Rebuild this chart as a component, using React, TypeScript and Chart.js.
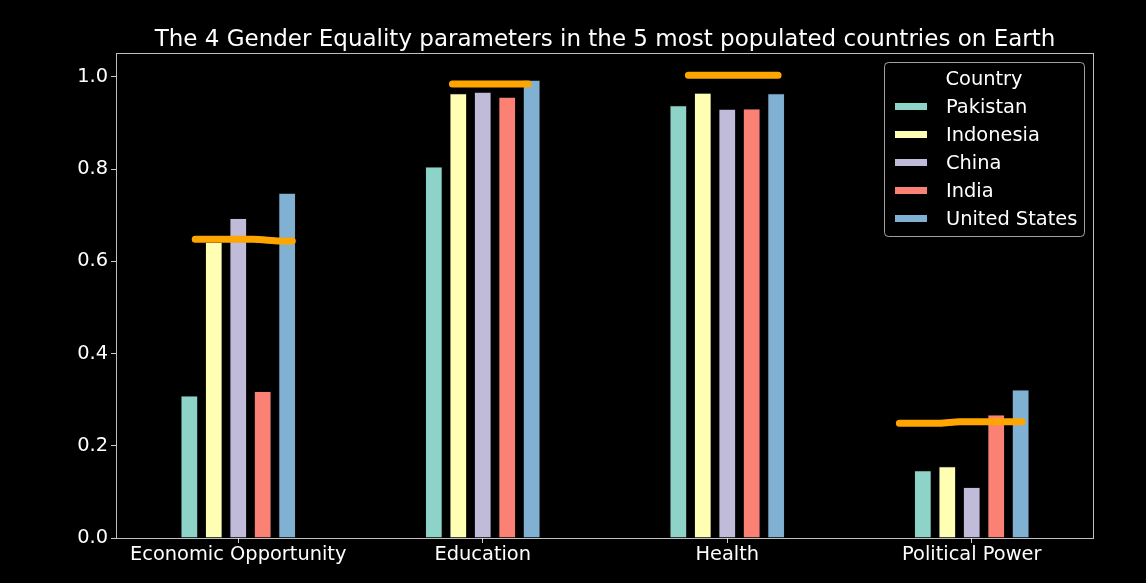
import React, { useEffect, useRef } from "react";
import { Chart, registerables } from "chart.js";
Chart.register(...registerables);

const chartTitle = "The 4 Gender Equality parameters in the 5 most populated countries on Earth";
const legendTitle = "Country";
const categories = ["Economic Opportunity", "Education", "Health", "Political Power"];
const countries = ["Pakistan", "Indonesia", "China", "India", "United States"];
const colors = ["#8dd3c7", "#feffb3", "#bfbbd9", "#fa8174", "#81b1d2"];
const pakistan = [0.308, 0.805, 0.938, 0.146];
const indonesia = [0.641, 0.964, 0.965, 0.155];
const china = [0.693, 0.967, 0.93, 0.11];
const india = [0.318, 0.956, 0.931, 0.267];
const unitedStates = [0.748, 0.993, 0.964, 0.321];
const seriesValues = [pakistan, indonesia, china, india, unitedStates];

// orange reference line per category: offsets within the category and values
const lineOffsets = [
  [-0.176, -0.05, 0.06, 0.17, 0.221],
  [-0.124, 0.186],
  [-0.159, 0.208],
  [-0.296, -0.13, -0.05, 0.206],
];
const lineValues = [
  [0.648, 0.648, 0.648, 0.644, 0.644],
  [0.985, 0.985],
  [1.004, 1.004],
  [0.249, 0.249, 0.252, 0.252],
];
const yTicks = [0, 0.2, 0.4, 0.6, 0.8, 1.0];
const yMax = 1.052;

const FONT = "'DejaVu Sans', sans-serif";

export default function App() {
  const ref = useRef<HTMLCanvasElement | null>(null);
  useEffect(() => {
    document.body.style.margin = "0";
    document.body.style.background = "#000";
    const linePts: any[] = [];
    lineOffsets.forEach((offs, ci) => {
      offs.forEach((o, k) => linePts.push({ x: ci + o, y: lineValues[ci][k] }));
      linePts.push({ x: ci + 0.45, y: null });
    });
    const datasets: any[] = seriesValues.map((vals, i) => ({
      type: "bar",
      label: countries[i],
      data: vals.map((v, ci) => ({ x: ci, y: v })),
      backgroundColor: colors[i],
      borderColor: "rgba(40,40,40,0.8)",
      borderWidth: 0.6,
      barPercentage: 0.69,
      categoryPercentage: 0.5,
      order: 2,
    }));
    datasets.push({
      type: "line",
      label: "__ref",
      data: linePts,
      borderColor: "#ffa500",
      borderWidth: 7,
      borderCapStyle: "round",
      borderJoinStyle: "round",
      pointRadius: 0,
      spanGaps: false,
      tension: 0.3,
      order: 1,
    });

    const decor = {
      id: "decor",
      beforeDraw(chart: any) {
        const c = chart.ctx;
        c.save();
        c.fillStyle = "#000";
        c.fillRect(0, 0, chart.width, chart.height);
        c.restore();
      },
      afterDraw(chart: any) {
        const c = chart.ctx;
        const a = chart.chartArea;
        c.save();
        c.strokeStyle = "rgba(255,255,255,0.75)";
        c.lineWidth = 1;
        c.strokeRect(a.left + 0.5, a.top + 0.5, a.right - a.left - 1, a.bottom - a.top);
        c.fillStyle = "#fff";
        c.font = `23px ${FONT}`;
        c.textAlign = "center";
        c.textBaseline = "middle";
        c.fillText(chartTitle, (a.left + a.right) / 2, 40);
        const bx = 884, by = 62, bw = 200, bh = 174;
        c.fillStyle = "#000";
        c.strokeStyle = "rgba(200,200,200,0.8)";
        c.beginPath();
        (c as any).roundRect(bx + 0.5, by + 0.5, bw, bh, 4);
        c.fill();
        c.stroke();
        c.fillStyle = "#fff";
        c.font = `19.4px ${FONT}`;
        c.textAlign = "center";
        c.fillText(legendTitle, bx + bw / 2, 80);
        c.textAlign = "left";
        countries.forEach((name, i) => {
          const y = 107.5 + i * 28;
          c.fillStyle = colors[i];
          c.fillRect(895, y - 4.5, 32, 7);
          c.fillStyle = "#fff";
          c.fillText(name, 946, y);
        });
        c.restore();
      },
    };

    const chart = new Chart(ref.current as HTMLCanvasElement, {
      data: { datasets },
      options: {
        responsive: false,
        animation: false,
        devicePixelRatio: 1,
        layout: { padding: { top: 53, right: 52, left: 0, bottom: 0 } },
        plugins: { legend: { display: false }, title: { display: false }, tooltip: { enabled: false } },
        scales: {
          x: {
            type: "linear",
            min: -0.5,
            max: 3.5,
            offset: false,
            grid: { display: true, drawOnChartArea: false, offset: false, tickLength: 5, color: "rgba(255,255,255,0.8)" },
            border: { display: false },
            ticks: {
              color: "#fff",
              font: { family: FONT, size: 19.4 },
              padding: 0,
              maxRotation: 0,
              autoSkip: false,
              callback: (v: any) => categories[Math.round(Number(v))],
            },
            afterBuildTicks(s: any) { s.ticks = categories.map((_, i) => ({ value: i })); },
            afterFit(s: any) { s.height = 45; },
          },
          y: {
            type: "linear",
            min: 0,
            max: yMax,
            grid: { display: true, drawOnChartArea: false, tickLength: 5, color: "rgba(255,255,255,0.8)" },
            border: { display: false },
            ticks: {
              color: "#fff",
              font: { family: FONT, size: 19.4 },
              padding: 3,
              callback: (v: any) => Number(v).toFixed(1),
            },
            afterBuildTicks(s: any) { s.ticks = yTicks.map((v) => ({ value: v })); },
            afterFit(s: any) { s.width = 116; },
          },
        },
      } as any,
      plugins: [decor],
    });
    return () => chart.destroy();
  }, []);
  return (
    <div style={{ width: 1146, height: 583, background: "#000" }}>
      <canvas ref={ref} width={1146} height={583} style={{ display: "block" }} />
    </div>
  );
}
